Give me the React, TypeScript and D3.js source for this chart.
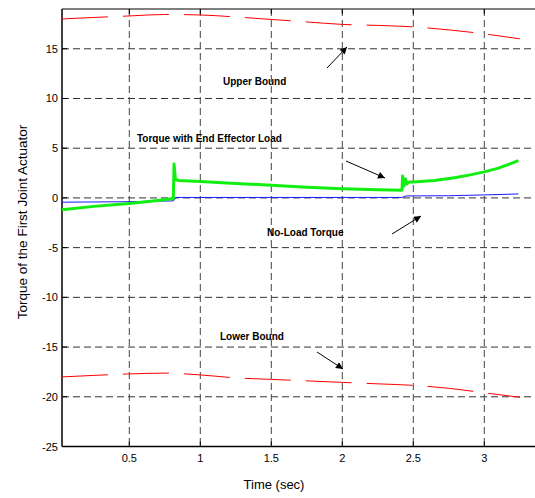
import React from "react";
import * as d3 from "d3";

const upperT = [0.026, 0.25, 0.5, 0.75, 1.0, 1.25, 1.5, 1.75, 2.0, 2.25, 2.5, 2.75, 3.0, 3.25];
const upperV = [18.0, 18.15, 18.3, 18.45, 18.4, 18.2, 17.95, 17.7, 17.45, 17.35, 17.2, 16.9, 16.5, 16.0];
const lowerT = [0.026, 0.25, 0.5, 0.75, 1.0, 1.25, 1.5, 1.75, 2.0, 2.25, 2.5, 2.75, 3.0, 3.25];
const lowerV = [-18.0, -17.85, -17.7, -17.62, -17.8, -18.1, -18.25, -18.4, -18.55, -18.7, -18.85, -19.15, -19.6, -20.05];
const loadT = [0.026, 0.25, 0.5, 0.7, 0.81, 0.815, 0.825, 0.85, 1.0, 1.25, 1.5, 1.75, 2.0, 2.25, 2.42, 2.425, 2.435, 2.445, 2.455, 2.47, 2.5, 2.65, 2.8, 2.9, 3.0, 3.1, 3.24];
const loadV = [-1.2, -0.85, -0.55, -0.25, -0.05, 3.4, 1.85, 1.75, 1.65, 1.45, 1.28, 1.08, 0.92, 0.82, 0.78, 2.2, 1.2, 1.9, 1.4, 1.6, 1.6, 1.75, 2.05, 2.32, 2.62, 3.0, 3.75];
const noLoadT = [0.026, 0.5, 0.81, 0.83, 1.5, 2.0, 2.42, 2.45, 2.75, 3.0, 3.24];
const noLoadV = [-0.43, -0.38, -0.3, 0.05, 0.05, 0.05, 0.05, 0.2, 0.22, 0.3, 0.4];
const xTicks = [0.5, 1, 1.5, 2, 2.5, 3];
const yTicks = [-25, -20, -15, -10, -5, 0, 5, 10, 15];

const W = 535;
const H = 498;
const FONT = "'Liberation Sans', Arial, sans-serif";

export default function App() {
  const x = d3.scaleLinear().domain([0.026, 3.45]).range([62, 62 + 142 * (3.45 - 0.026)]);
  const y = d3.scaleLinear().domain([-25, 19]).range([446.5, 9]);
  const left = x.range()[0];
  const right = x.range()[1];
  const top = y.range()[1];
  const bottom = y.range()[0];

  const line = d3
    .line<[number, number]>()
    .x((d) => x(d[0]))
    .y((d) => y(d[1]));
  const smooth = d3
    .line<[number, number]>()
    .x((d) => x(d[0]))
    .y((d) => y(d[1]))
    .curve(d3.curveMonotoneX);
  const zip = (a: number[], b: number[]) => a.map((t, i) => [t, b[i]] as [number, number]);

  const arrows = [
    { x1: 327, y1: 68, x2: 347, y2: 47 },
    { x1: 346, y1: 161, x2: 385, y2: 178 },
    { x1: 392, y1: 234, x2: 421, y2: 216 },
    { x1: 317, y1: 352, x2: 343, y2: 369 },
  ];

  return (
    <svg
      width={W}
      height={H}
      style={{ position: "fixed", left: 0, top: 0, background: "#fff" }}
      fontFamily={FONT}
    >
      <defs>
        <marker id="ah" viewBox="0 0 10 10" refX="10" refY="5" markerWidth="9" markerHeight="7" orient="auto" markerUnits="userSpaceOnUse">
          <path d="M0,0 L10,5 L0,10 z" fill="#000" />
        </marker>
      </defs>
      <rect x={0} y={0} width={W} height={H} fill="#fff" />
      {yTicks.map((v) => (
        <line key={"gy" + v} x1={left} x2={right} y1={y(v)} y2={y(v)} stroke="#333" strokeWidth={1} strokeDasharray="7,4" />
      ))}
      {xTicks.map((v) => (
        <line key={"gx" + v} x1={x(v)} x2={x(v)} y1={top} y2={bottom} stroke="#444" strokeWidth={1} strokeDasharray="7,4" />
      ))}
      <line x1={left} x2={right} y1={top} y2={top} stroke="#000" strokeWidth={1.2} />
      <line x1={left} x2={right} y1={bottom} y2={bottom} stroke="#000" strokeWidth={1.5} />
      <line x1={left} x2={left} y1={top} y2={bottom} stroke="#000" strokeWidth={1.5} />
      {xTicks.map((v) => (
        <g key={"tx" + v}>
          <line x1={x(v)} x2={x(v)} y1={bottom} y2={bottom - 5} stroke="#000" />
          <line x1={x(v)} x2={x(v)} y1={top} y2={top + 5} stroke="#000" />
          <text x={x(v)} y={462} textAnchor="middle" fontSize={11} fill="#000">
            {v}
          </text>
        </g>
      ))}
      {yTicks.map((v) => (
        <g key={"ty" + v}>
          <line x1={left} x2={left + 5} y1={y(v)} y2={y(v)} stroke="#000" />
          <text x={58} y={y(v) + 4} textAnchor="end" fontSize={11} fill="#000">
            {v}
          </text>
        </g>
      ))}
      <path d={smooth(zip(upperT, upperV)) || ""} fill="none" stroke="#ff0000" strokeWidth={1} strokeDasharray="46,15" />
      <path d={smooth(zip(lowerT, lowerV)) || ""} fill="none" stroke="#ff0000" strokeWidth={1} strokeDasharray="46,15" />
      <path d={line(zip(noLoadT, noLoadV)) || ""} fill="none" stroke="#1a1aff" strokeWidth={1} />
      <path d={line(zip(loadT, loadV)) || ""} fill="none" stroke="#11ee11" strokeWidth={3} strokeLinejoin="round" />
      <text x={223} y={85} fontSize={10} fontWeight="bold" fill="#000">Upper Bound</text>
      <text x={137} y={142} fontSize={10} fontWeight="bold" fill="#000">Torque with End Effector Load</text>
      <text x={267} y={236} fontSize={10} fontWeight="bold" fill="#000">No-Load Torque</text>
      <text x={220} y={340} fontSize={10} fontWeight="bold" fill="#000">Lower Bound</text>
      {arrows.map((a, i) => (
        <line key={"a" + i} x1={a.x1} y1={a.y1} x2={a.x2} y2={a.y2} stroke="#000" strokeWidth={1} markerEnd="url(#ah)" />
      ))}
      <text x={274} y={489} textAnchor="middle" fontSize={13} fill="#000">Time (sec)</text>
      <text transform={`translate(27,222) rotate(-90)`} textAnchor="middle" fontSize={13.5} fill="#000">
        Torque of the First Joint Actuator
      </text>
    </svg>
  );
}
